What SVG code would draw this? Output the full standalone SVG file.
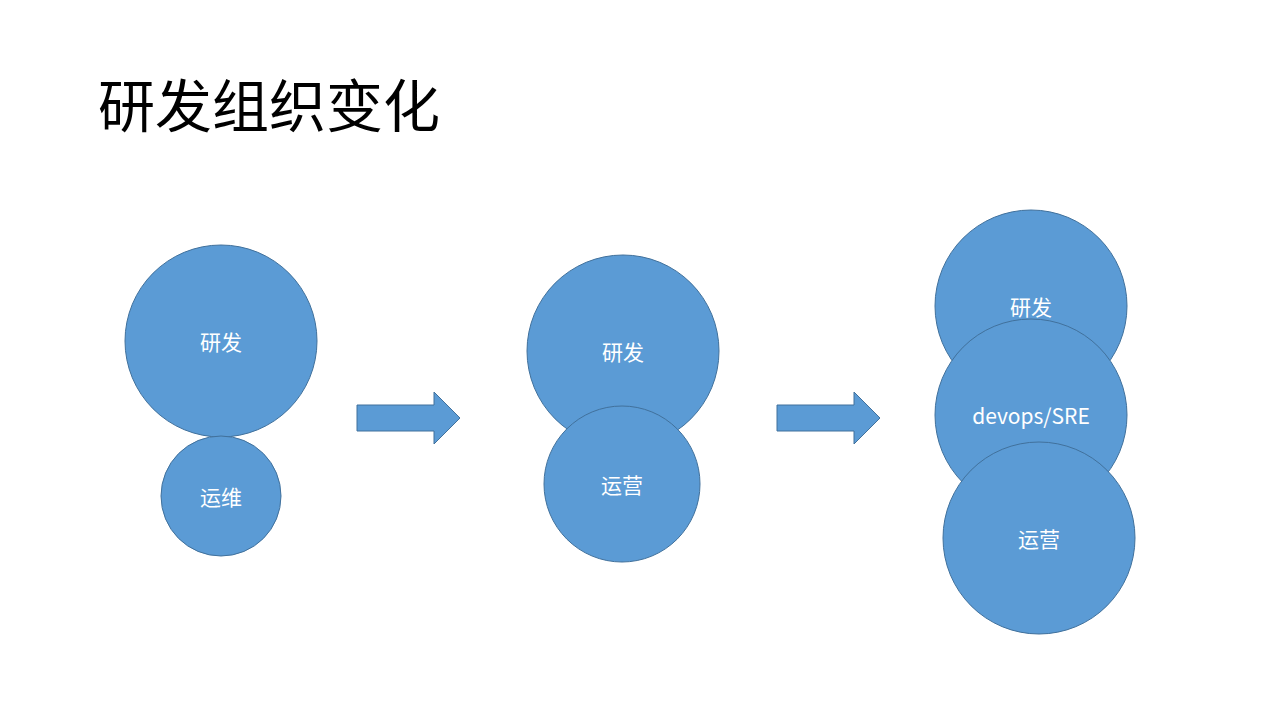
<svg xmlns="http://www.w3.org/2000/svg" width="1279" height="719" viewBox="0 0 1279 719">
<style>
.c{fill:#5B9BD5;stroke:#41719C;stroke-width:1}
.t{fill:#fff;font-family:"Noto Sans CJK SC","Liberation Sans",sans-serif;font-size:21px;text-anchor:middle;dominant-baseline:central}
</style>
<rect width="1279" height="719" fill="#fff"/>
<text x="98" y="127" font-family="Noto Sans CJK SC,sans-serif" font-size="57" fill="#000">研发组织变化</text>
<g id="connectors">
<polygon class="c" points="357,405 434,405 434,392 460,418 434,444 434,431 357,431"/>
<polygon class="c" points="777,405 854,405 854,392 880,418 854,444 854,431 777,431"/>
</g>
<g id="n1"><circle class="c" cx="221" cy="341" r="96"/><text class="t" x="221" y="341">研发</text></g>
<g id="n2"><circle class="c" cx="221" cy="496" r="60"/><text class="t" x="221" y="496">运维</text></g>
<g id="n3"><circle class="c" cx="623" cy="351" r="96"/><text class="t" x="623" y="351">研发</text></g>
<g id="n4"><circle class="c" cx="622" cy="484" r="78"/><text class="t" x="622" y="484">运营</text></g>
<g id="n5"><circle class="c" cx="1031" cy="306" r="96"/><text class="t" x="1031" y="306">研发</text></g>
<g id="n6"><circle class="c" cx="1031" cy="415" r="96"/><text class="t" x="1031" y="415" font-family="Open Sans,sans-serif">devops/SRE</text></g>
<g id="n7"><circle class="c" cx="1039" cy="538" r="96"/><text class="t" x="1039" y="538">运营</text></g>
</svg>
